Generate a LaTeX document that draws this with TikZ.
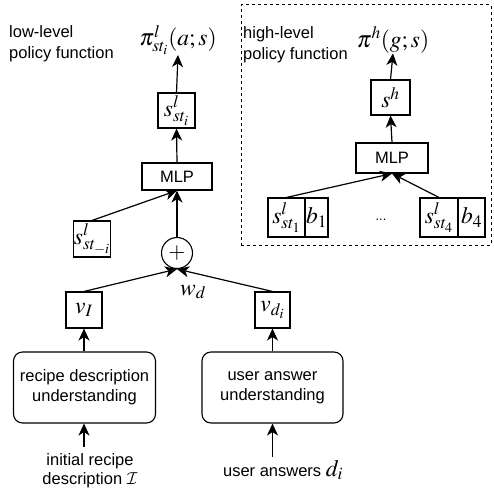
\documentclass[tikz,border=0pt]{standalone}
\usepackage{mathptmx}
\DeclareMathAlphabet{\mathcal}{OMS}{cmsy}{m}{n}
\usepackage{fontspec}
\setsansfont{Liberation Sans}
\usetikzlibrary{arrows.meta}
\begin{document}
\begin{tikzpicture}[x=1pt,y=-1pt,
  every node/.style={font=\sffamily\fontsize{16.5}{20}\selectfont},
  bx/.style={draw, line width=1.1pt, inner sep=0pt},
  rbx/.style={draw, line width=1.1pt, inner sep=0pt, rounded corners=9pt, align=center, minimum width=142pt, minimum height=71pt},
  mth/.style={font=\fontsize{23.5}{27}\selectfont, inner sep=0pt},
  arr/.style={line width=1.2pt, -{Stealth[length=12pt,width=11pt,inset=3.5pt]}},
  lbl/.style={align=left, inner sep=0pt, font=\sffamily\fontsize{16.5}{21.5}\selectfont}
]
\useasboundingbox (0,0) rectangle (494,492);

% low-level
\node[lbl, anchor=north west] (tl) at (9,25) {low-level\\policy function};
\node[mth] (pil) at (178,40) {$\pi^{l}_{st_i}(a;s)$};
\node[bx, mth, minimum width=37pt, minimum height=35pt] (sl) at (176.5,110.5) {$s^{l}_{st_i}$};
\node[bx, minimum width=70pt, minimum height=27pt] (mlpl) at (177,176.5) {MLP};
\node[bx, mth, minimum width=36pt, minimum height=36pt] (sneg) at (92,239) {$s^{l}_{st_{-i}}$};
\node[draw, circle, line width=1.1pt, minimum size=31pt, inner sep=0pt, font=\fontsize{22}{26}\selectfont] (plus) at (177,253) {$+$};
\node[bx, mth, minimum width=36pt, minimum height=36pt] (vi) at (84,310) {$v_I$};
\node[bx, mth, minimum width=35pt, minimum height=36pt] (vd) at (272.5,310) {$v_{d_i}$};
\node[mth] (wd) at (193,292) {$w_d$};
\node[rbx] (rec) at (84.5,387.5) {recipe description\\understanding};
\node[rbx, minimum width=141pt] (usr) at (272.5,387.5) {user answer\\understanding};
\coordinate (in1) at (84,447);
\coordinate (in2) at (272.5,457);
\node[align=center, inner sep=0pt, font=\sffamily\fontsize{16.5}{19}\selectfont] (ini) at (90,471) {initial recipe\\description $\mathcal{I}$};
\node[inner sep=0pt] (ua) at (283,470) {user answers \fontsize{23.5}{27}\selectfont$d_i$};

\draw[arr] (sl.north) -- (pil.south);
\draw[arr] (mlpl.north) -- (sl.south);
\draw[arr] (plus.north) -- (mlpl.south);
\draw[arr] (sneg.north) -- (mlpl.south);
\draw[arr] (vi.north) -- (plus.south);
\draw[arr] (vd.north) -- (plus.south);
\draw[arr] (rec.north -| vi.south) -- (vi.south);
\draw[arr] (usr.north -| vd.south) -- (vd.south);
\draw[arr] (in1) -- (rec.south -| in1);
\draw[arr] (in2) -- (usr.south -| in2);

% high-level
\node[draw, dashed, line width=1pt, inner sep=0pt, minimum width=250pt, minimum height=240pt] (hbox) at (366,125) {};
\node[lbl, anchor=north west] (th) at (243,26) {high-level\\policy function};
\node[mth] (pih) at (393,40) {$\pi^{h}(g;s)$};
\node[bx, mth, minimum width=39pt, minimum height=35pt] (sh) at (390.5,97.5) {$s^{h}$};
\node[bx, minimum width=72pt, minimum height=30pt] (mlph) at (392,158) {MLP};
\node[bx, mth, minimum width=37pt, minimum height=39pt] (s1) at (286.5,217.5) {$s^{l}_{st_1}$};
\node[bx, mth, minimum width=23pt, minimum height=39pt] (b1) at (316.5,217.5) {$b_1$};
\node[bx, mth, minimum width=38pt, minimum height=39pt] (s4) at (439,217.5) {$s^{l}_{st_4}$};
\node[bx, mth, minimum width=27pt, minimum height=39pt] (b4) at (471.5,217.5) {$b_4$};
\node[inner sep=0pt, font=\sffamily\fontsize{13}{16}\selectfont] (dots) at (381,220) {...};

\draw[arr] (sh.north) -- (pih.south);
\draw[arr] (mlph.north) -- (sh.south);
\draw[arr] (s1.north) -- (mlph.south);
\draw[arr] (s4.north) -- (mlph.south);
\end{tikzpicture}
\end{document}
